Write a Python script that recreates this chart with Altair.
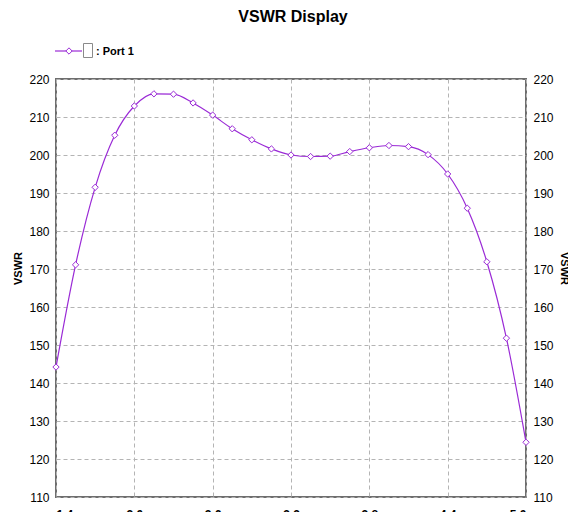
import altair as alt
import pandas as pd

# ---- data ----
freq_ghz = [1.40, 1.55, 1.70, 1.85, 2.00, 2.15, 2.30, 2.45, 2.60, 2.75, 2.90, 3.05, 3.20,
            3.35, 3.50, 3.65, 3.80, 3.95, 4.10, 4.25, 4.40, 4.55, 4.70, 4.85, 5.00]
vswr = [144.2, 171.1, 191.5, 205.2, 212.9, 216.1, 216.0, 213.7, 210.5, 206.9, 204.0, 201.6, 200.0,
        199.6, 199.7, 200.9, 201.9, 202.5, 202.2, 200.1, 195.0, 186.0, 171.9, 151.8, 124.4]
x_ticks = [1.4, 2.0, 2.6, 3.2, 3.8, 4.4, 5.0]
y_ticks = [110, 120, 130, 140, 150, 160, 170, 180, 190, 200, 210, 220]
series_name = "Port 1"
chart_title = "VSWR Display"

df = pd.DataFrame({"freq": freq_ghz, "vswr": vswr})
one = pd.DataFrame({"k": [0]})

FONT = "Liberation Sans"
LINE = "#9a2ad6"
GRID = "#b4b4b4"

xs = alt.Scale(domain=[1.4, 5.0], nice=False, zero=False)
ys = alt.Scale(domain=[110, 220], nice=False, zero=False)

x_axis = alt.Axis(values=x_ticks, format=".1f", grid=True, gridDash=[4, 3], gridColor=GRID,
                  gridWidth=1, domain=False, ticks=False, labelPadding=12, labelBaseline="top",
                  labelFontSize=12, labelFontWeight="bold", labelFont=FONT, labelColor="#000",
                  title=None)

left_axis = alt.Axis(orient="left", values=y_ticks, grid=True, gridDash=[4, 3], gridColor=GRID,
                     gridWidth=1, domain=False, ticks=False, labelPadding=7, labelFontSize=12,
                     labelFont=FONT, labelColor="#000", title="VSWR", titleFont=FONT,
                     titleFontSize=11, titleFontWeight="bold", titleColor="#000",
                     titleX=-38, titleY=189, titleAlign="center", titleBaseline="middle",
                     titleAngle=270)

right_axis = alt.Axis(orient="right", values=y_ticks, grid=False, domain=False, ticks=False,
                      labelPadding=7, labelFontSize=12, labelFont=FONT, labelColor="#000",
                      title="VSWR", titleFont=FONT, titleFontSize=11, titleFontWeight="bold",
                      titleColor="#000", titleX=37, titleY=189, titleAlign="center",
                      titleBaseline="middle", titleAngle=90)

line = alt.Chart(df).mark_line(color=LINE, strokeWidth=1.2, interpolate="monotone").encode(
    x=alt.X("freq:Q", scale=xs, axis=x_axis),
    y=alt.Y("vswr:Q", scale=ys, axis=left_axis),
)

points = alt.Chart(df).mark_point(shape="diamond", size=40, filled=False, color=LINE,
                                  fill="white", fillOpacity=1, strokeWidth=1).encode(
    x=alt.X("freq:Q", scale=xs),
    y=alt.Y("vswr:Q", scale=ys, axis=right_axis),
)

# legend (custom, top-left above the plot)
leg_line = alt.Chart(one).mark_rule(color=LINE, strokeWidth=1.2).encode(
    x=alt.value(-1), x2=alt.value(26), y=alt.value(-28))
leg_pt = alt.Chart(one).mark_point(shape="diamond", size=40, filled=False, color=LINE,
                                   fill="white", fillOpacity=1, strokeWidth=1).encode(
    x=alt.value(13), y=alt.value(-28))
leg_box = alt.Chart(one).mark_rect(fill="white", stroke="#8a8a8a", strokeWidth=1).encode(
    x=alt.value(27.5), x2=alt.value(36.5), y=alt.value(-35.5), y2=alt.value(-21.5))
leg_text = alt.Chart(one).mark_text(align="left", baseline="middle", font=FONT, fontSize=11,
                                    fontWeight="bold", color="#000").encode(
    x=alt.value(40), y=alt.value(-27.5), text=alt.value(": " + series_name))

title = alt.Chart(one).mark_text(align="center", baseline="alphabetic", font=FONT, fontSize=16,
                                 fontWeight="bold", color="#000").encode(
    x=alt.value(237), y=alt.value(-57), text=alt.value(chart_title))

chart = alt.layer(line, points, leg_line, leg_pt, leg_box, leg_text, title).resolve_axis(
    y="independent"
).properties(
    width=470, height=418,
    autosize=alt.AutoSizeParams(type="none"),
    padding={"left": 56, "top": 79, "right": 42, "bottom": 15},
    background="white",
).configure_view(stroke="#6e6e6e", strokeWidth=2)

chart.save("out.html", embed_options={"renderer": "svg", "actions": False})
